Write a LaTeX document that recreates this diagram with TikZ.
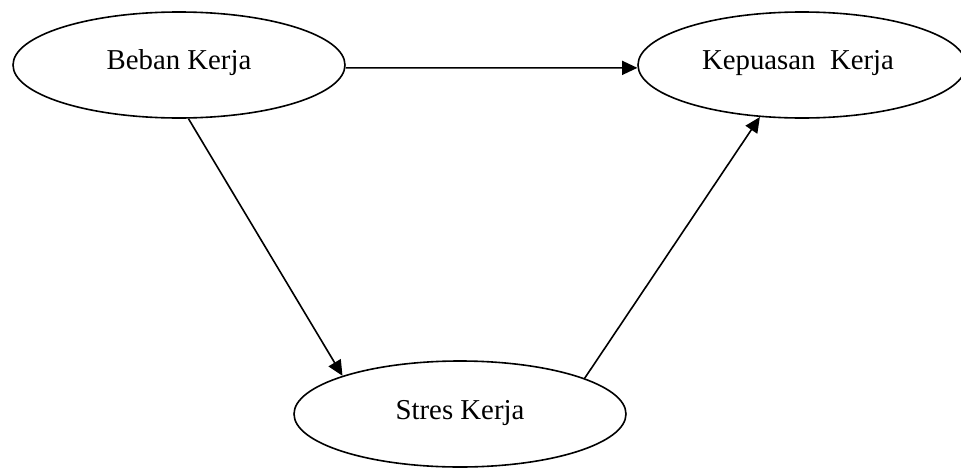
\documentclass[tikz,border=0pt]{standalone}
\usepackage{fontspec}
\setmainfont{Liberation Serif}
\usetikzlibrary{shapes.geometric,arrows.meta}
\begin{document}
\begin{tikzpicture}[x=0.75pt,y=-0.75pt,
  oval/.style={draw,ellipse,line width=1.2pt,minimum width=249pt,minimum height=79.5pt,inner sep=0pt},
  lab/.style={anchor=base,font=\fontsize{21.6pt}{26pt}\selectfont},
  conn/.style={line width=1.2pt,-{Triangle[length=11.5pt,width=10.5pt]}}]
\useasboundingbox (0,0) rectangle (961,468);
\node[oval,label={[lab,yshift=1.5pt]center:Beban Kerja}] (b) at (179,65) {};
\node[oval,minimum width=246pt,label={[lab,yshift=1.5pt,xshift=-3pt]center:Kepuasan\ \ Kerja}] (k) at (802,65) {};
\node[oval,label={[lab,yshift=0.75pt]center:Stres Kerja}] (s) at (460,414) {};
\draw[conn] (b.-1) -- (k.181);
\draw[conn] (b.-80) -- (s.162.5);
\draw[conn] (s.16) -- (k.-129);
\end{tikzpicture}
\end{document}
